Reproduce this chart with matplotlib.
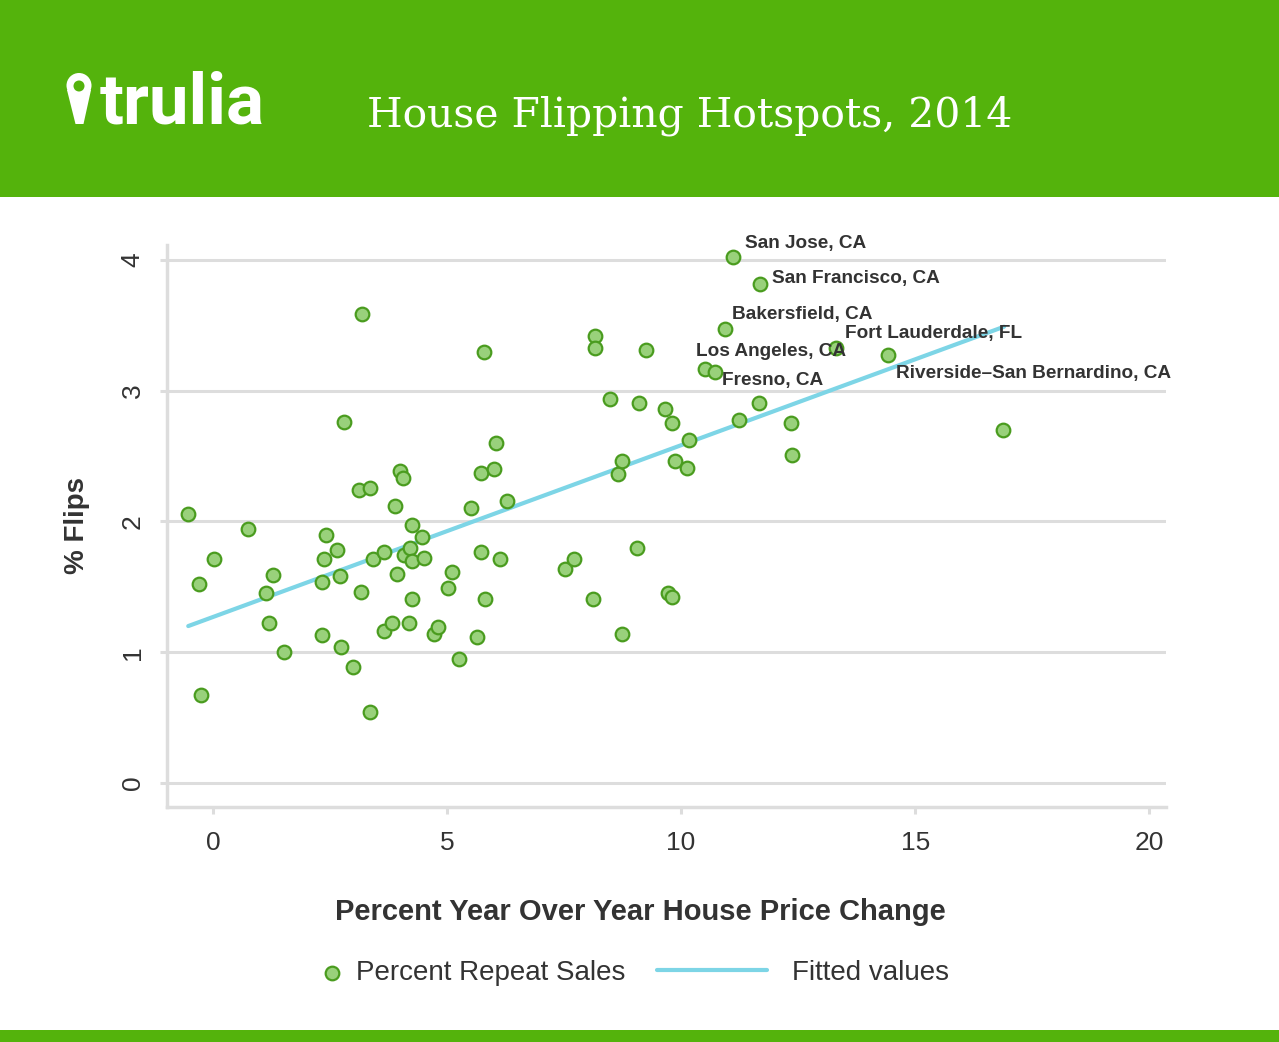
import matplotlib.pyplot as plt
from matplotlib.patches import Rectangle, Circle, Polygon

# Data: % year over year price change vs % flips
price_change = [-0.53, -0.30, -0.26, 0.02, 0.75, 1.13, 1.28, 1.20, 1.52, 2.33,
                2.37, 2.42, 2.33, 2.65, 2.72, 2.74, 2.80, 2.99, 3.12, 3.19,
                3.17, 3.36, 3.36, 3.42, 3.66, 3.66, 3.83, 3.89, 3.94, 4.00,
                4.06, 4.09, 4.19, 4.21, 4.24, 4.24, 4.26, 4.47, 4.51, 4.71,
                4.81, 5.03, 5.11, 5.26, 5.52, 5.63, 5.73, 5.73, 5.78, 5.82,
                6.01, 6.05, 6.12, 6.29, 7.51, 7.72, 8.11, 8.17, 8.15, 8.49,
                8.66, 8.73, 8.73, 9.05, 9.09, 9.26, 9.65, 9.73, 9.80, 9.80,
                9.86, 10.12, 10.16, 10.52, 10.72, 10.93, 11.10, 11.23, 11.66, 11.68,
                12.34, 12.36, 13.30, 14.42, 16.88]
pct_flips = [2.06, 1.52, 0.67, 1.71, 1.94, 1.45, 1.59, 1.22, 1.00, 1.54,
             1.71, 1.90, 1.13, 1.78, 1.58, 1.04, 2.76, 0.89, 2.24, 3.59,
             1.46, 2.26, 0.54, 1.71, 1.77, 1.16, 1.22, 2.12, 1.60, 2.39,
             2.33, 1.74, 1.22, 1.80, 1.70, 1.41, 1.97, 1.88, 1.72, 1.14,
             1.19, 1.49, 1.61, 0.95, 2.10, 1.12, 2.37, 1.77, 3.30, 1.41,
             2.40, 2.60, 1.71, 2.16, 1.64, 1.71, 1.41, 3.42, 3.33, 2.94,
             2.36, 2.46, 1.14, 1.80, 2.91, 3.31, 2.86, 1.45, 1.42, 2.75,
             2.46, 2.41, 2.62, 3.17, 3.14, 3.47, 4.02, 2.78, 2.91, 3.82,
             2.75, 2.51, 3.33, 3.27, 2.70]

# Fitted values (ends of the regression line)
fit_x = [-0.53, 16.90]
fit_y = [1.20, 3.49]

# Labelled metros
metro_names = ["San Jose, CA", "San Francisco, CA", "Bakersfield, CA",
               "Fort Lauderdale, FL", "Los Angeles, CA", "Fresno, CA",
               "Riverside\u2013San Bernardino, CA"]
metro_x = [11.10, 11.68, 10.93, 13.30, 10.52, 10.72, 14.42]
metro_y = [4.02, 3.82, 3.47, 3.33, 3.17, 3.14, 3.27]

x_ticks = [0, 5, 10, 15, 20]
y_ticks = [0, 1, 2, 3, 4]

green = "#54b30c"
grid_gray = "#dddddd"
dark = "#333333"

W, H = 1279, 1042
fig = plt.figure(figsize=(W / 100, H / 100), dpi=100)

# header / footer drawn in pixel coordinates
bg = fig.add_axes([0, 0, 1, 1], zorder=0)
bg.set_xlim(0, W)
bg.set_ylim(H, 0)
bg.axis("off")
bg.add_patch(Rectangle((0, 0), W, 197, color=green, lw=0))
bg.add_patch(Rectangle((0, 1030), W, 12, color=green, lw=0))

# map pin of the logo
bg.add_patch(Polygon([(67, 90), (91, 90), (83.5, 124), (75.5, 124)], closed=True, color="white", lw=0))
bg.add_patch(Circle((79, 85.5), 12.5, color="white", lw=0))
bg.add_patch(Circle((79, 86), 5.5, color=green, lw=0))
bg.text(100, 124, "trulia", color="white", fontsize=51, fontweight="bold",
        family="Roboto", ha="left", va="baseline")
bg.text(367, 126, "House Flipping Hotspots, 2014", color="white", fontsize=29.4,
        family="DejaVu Serif", ha="left", va="baseline")

# main chart
ax = fig.add_axes([167 / W, 1 - 807 / H, (1166 - 167) / W, (807 - 245) / H], zorder=1)
ax.set_xlim(-0.984, 20.36)
ax.set_ylim(-0.184, 4.115)

sc = ax.scatter(price_change, pct_flips, s=96, facecolor="#99d17b", edgecolor="#4a9c1f",
                linewidths=1.6, zorder=3)
line, = ax.plot(fit_x, fit_y, color="#7dd5e6", lw=3, solid_capstyle="round", zorder=2)

offsets = [(9, 10), (9, 4), (5, 11), (7, 10), (-7, 12), (5, -6), (6, -13)]
for name, mx, my, off in zip(metro_names, metro_x, metro_y, offsets):
    ax.annotate(name, (mx, my), xytext=off, textcoords="offset points",
                ha="left", va="center", fontsize=13.7, fontweight="bold",
                family="Liberation Sans", color=dark, zorder=4)

ax.set_xticks(x_ticks)
ax.set_yticks(y_ticks)
ax.grid(axis="y", color=grid_gray, lw=2.2)
ax.set_axisbelow(True)
for s in ["top", "right"]:
    ax.spines[s].set_visible(False)
for s in ["left", "bottom"]:
    ax.spines[s].set_color(grid_gray)
    ax.spines[s].set_linewidth(2.5)
ax.tick_params(axis="both", colors=grid_gray, width=2.2, length=5, labelcolor=dark,
               labelsize=19)
ax.tick_params(axis="x", pad=12)
ax.tick_params(axis="y", pad=11, labelrotation=90)
for lab in ax.get_xticklabels() + ax.get_yticklabels():
    lab.set_family("Liberation Sans")
for lab in ax.get_yticklabels():
    lab.set_verticalalignment("center")

ax.set_xlabel("Percent Year Over Year House Price Change", fontsize=21, fontweight="bold",
              family="Liberation Sans", color=dark, va="center")
ax.xaxis.set_label_coords((640 - 167) / (1166 - 167), (807 - 912) / (807 - 245))
ax.set_ylabel("% Flips", fontsize=20, fontweight="bold", family="Liberation Sans",
              color=dark, va="center")
ax.yaxis.set_label_coords((77 - 167) / (1166 - 167), (807 - 525) / (807 - 245))

leg_y = 1 - 973 / H
fig.legend(handles=[sc], labels=["Percent Repeat Sales"], loc="center left",
           bbox_to_anchor=(318 / W, leg_y), frameon=False,
           handlelength=1.0, handletextpad=0.36, borderpad=0, borderaxespad=0,
           labelcolor=dark, prop={"family": "Liberation Sans", "size": 20})
fig.legend(handles=[line], labels=["Fitted values"], loc="center left",
           bbox_to_anchor=(657 / W, leg_y), frameon=False,
           handlelength=3.96, handletextpad=0.9, borderpad=0, borderaxespad=0,
           labelcolor=dark, prop={"family": "Liberation Sans", "size": 20})

fig.savefig("out.png", dpi=100)
